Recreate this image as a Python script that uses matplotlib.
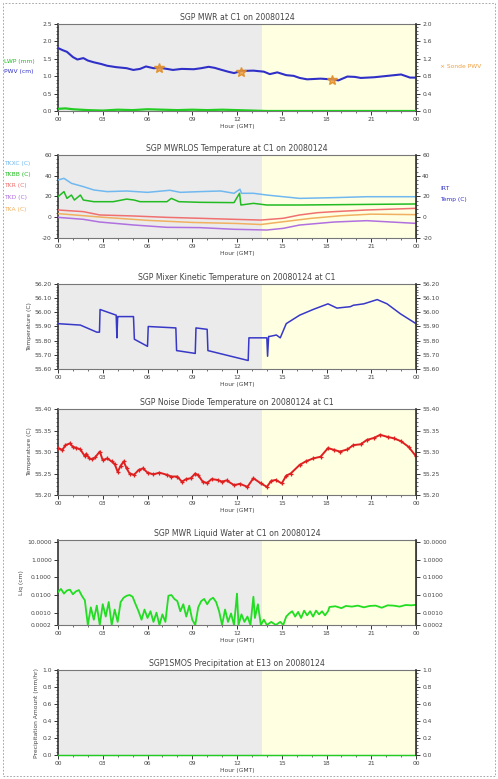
import matplotlib
matplotlib.use("Agg")
import matplotlib.pyplot as plt
from matplotlib.ticker import MultipleLocator, AutoMinorLocator, NullLocator
from matplotlib.patches import Rectangle

# ---------------- data ----------------
hour_ticks = [0, 3, 6, 9, 12, 15, 18, 21, 24]
hour_labels = ["00", "03", "06", "09", "12", "15", "18", "21", "00"]
dawn_hour = 13.65

# Panel 1: MWR PWV / LWP
pwv_hours = [0.0, 0.3, 0.6, 1.0, 1.3, 1.7, 2.0, 2.4, 2.9, 3.3, 3.9, 4.6, 5.05, 5.5, 5.9, 6.4, 6.85,
             7.3, 7.7, 8.3, 9.1, 9.6, 10.1, 10.5, 10.9, 11.4, 11.8, 12.3, 13.1, 13.8, 14.2, 14.7,
             15.3, 15.8, 16.2, 16.7, 17.6, 18.3, 18.8, 19.4, 19.9, 20.3, 21.2, 22.1, 23.0, 23.6, 24.0]
pwv_cm = [1.81, 1.75, 1.70, 1.55, 1.48, 1.52, 1.45, 1.40, 1.35, 1.30, 1.26, 1.23, 1.18, 1.21, 1.28,
          1.23, 1.24, 1.21, 1.18, 1.21, 1.20, 1.23, 1.27, 1.24, 1.19, 1.13, 1.09, 1.15, 1.16, 1.13,
          1.06, 1.11, 1.03, 1.01, 0.95, 0.91, 0.93, 0.91, 0.88, 0.99, 0.98, 0.95, 0.97, 1.01, 1.05,
          0.96, 0.96]
sonde_hours = [6.8, 12.3, 18.4]
sonde_pwv = [1.24, 1.11, 0.88]
lwp_hours = [0.0, 0.5, 1.0, 1.5, 2.0, 3.0, 4.0, 5.0, 6.0, 7.0, 8.0, 9.0, 10.0, 11.0, 12.0, 13.0,
             14.0, 16.0, 18.0, 20.0, 22.0, 24.0]
lwp_mm = [0.05, 0.06, 0.04, 0.03, 0.02, 0.01, 0.03, 0.02, 0.04, 0.03, 0.02, 0.03, 0.02, 0.03, 0.02,
          0.01, 0.0, 0.0, 0.0, 0.0, 0.0, 0.0]

# Panel 2: MWRLOS temperatures
tkxc_hours = [0.0, 0.4, 0.9, 1.7, 2.4, 3.3, 4.6, 6.0, 7.5, 8.2, 9.5, 10.9, 11.8, 12.2, 12.3, 13.1,
              14.0, 15.1, 16.2, 18.5, 20.7, 24.0]
tkxc = [35.9, 37.5, 32.7, 29.5, 26.3, 24.7, 25.3, 24.0, 26.0, 24.0, 24.7, 25.3, 23.1, 27.0, 23.1,
        23.1, 21.4, 19.8, 18.2, 18.9, 19.8, 19.8]
tkbb_hours = [0.0, 0.4, 0.6, 0.9, 1.1, 1.5, 1.7, 2.4, 3.7, 4.6, 5.1, 5.5, 7.3, 7.6, 8.1, 9.5, 11.8,
              12.17, 12.26, 13.1, 14.0, 16.2, 24.0]
tkbb = [19.8, 24.7, 18.2, 21.4, 16.6, 21.4, 16.6, 15.0, 15.0, 17.5, 16.6, 15.0, 15.0, 18.2, 15.0,
        14.4, 14.1, 23.1, 11.8, 13.4, 11.8, 11.8, 12.8]
tkr_hours = [0.0, 1.7, 2.8, 5.1, 7.3, 9.5, 11.8, 13.6, 15.1, 16.2, 17.4, 18.5, 20.7, 24.0]
tkr = [7.0, 5.4, 2.2, 1.2, -0.1, -1.0, -2.0, -2.7, -1.0, 2.2, 4.4, 5.4, 7.0, 8.6]
tkd_hours = [0.0, 1.7, 2.8, 5.1, 7.3, 9.5, 11.8, 14.0, 15.1, 16.2, 18.5, 20.7, 24.0]
tkd = [-0.1, -2.0, -4.6, -7.5, -9.7, -10.0, -11.6, -12.3, -10.7, -7.5, -4.6, -3.3, -5.9]
tka_hours = [0.0, 3.0, 6.0, 9.0, 12.0, 13.6, 15.0, 17.0, 19.0, 21.0, 24.0]
tka = [3.5, 0.0, -3.0, -5.0, -6.0, -7.0, -4.5, -1.0, 1.5, 3.0, 2.5]
los_labels = ["TKXC (C)", "TKBB (C)", "TKR (C)", "TKD (C)", "TKA (C)"]

# Panel 3: mixer kinetic temperature
mk_hours = [0.0, 1.5, 2.6, 2.78, 2.82, 3.9, 3.95, 4.0, 4.05, 5.06, 5.12, 6.0, 6.05, 7.9, 7.95, 9.2,
            9.25, 10.0, 10.05, 12.75, 12.8, 14.0, 14.05, 14.12, 14.2, 14.64, 14.9, 15.3, 16.2, 17.1,
            18.1, 18.7, 19.6, 19.8, 20.5, 21.4, 22.06, 22.95, 24.0]
mk_temp = [55.92, 55.91, 55.86, 55.86, 56.02, 55.98, 55.82, 55.97, 55.97, 55.97, 55.81, 55.76,
           55.90, 55.89, 55.73, 55.71, 55.89, 55.88, 55.73, 55.66, 55.82, 55.82, 55.69, 55.83,
           55.83, 55.84, 55.82, 55.92, 55.98, 56.02, 56.06, 56.03, 56.04, 56.05, 56.06, 56.09,
           56.06, 55.99, 55.92]
mk_ticks = [55.6, 55.7, 55.8, 55.9, 56.0, 56.1, 56.2]

# Panel 4: noise diode temperature
nd_hours = [0.0, 0.3, 0.5, 0.8, 1.0, 1.2, 1.5, 1.8, 1.9, 2.1, 2.3, 2.5, 2.8, 3.0, 3.3, 3.6, 3.8, 4.0,
            4.2, 4.4, 4.6, 4.8, 5.1, 5.4, 5.7, 6.0, 6.4, 6.8, 7.3, 7.6, 8.0, 8.3, 8.6, 8.9, 9.2, 9.4,
            9.7, 10.0, 10.3, 10.7, 11.0, 11.3, 11.8, 12.2, 12.7, 13.1, 13.6, 14.0, 14.3, 14.6, 15.0,
            15.3, 15.6, 16.2, 16.6, 17.1, 17.6, 18.1, 18.5, 18.9, 19.4, 19.8, 20.3, 20.7, 21.2, 21.6,
            22.1, 22.5, 23.0, 23.5, 24.0]
nd_temp = [55.309, 55.305, 55.316, 55.320, 55.312, 55.310, 55.306, 55.290, 55.296, 55.285, 55.283,
           55.288, 55.301, 55.281, 55.285, 55.278, 55.272, 55.254, 55.268, 55.278, 55.262, 55.250,
           55.247, 55.258, 55.262, 55.252, 55.248, 55.252, 55.247, 55.243, 55.243, 55.231, 55.237,
           55.239, 55.250, 55.246, 55.231, 55.228, 55.237, 55.235, 55.231, 55.234, 55.223, 55.226,
           55.219, 55.239, 55.227, 55.219, 55.233, 55.235, 55.227, 55.245, 55.250, 55.270, 55.278,
           55.285, 55.289, 55.309, 55.305, 55.301, 55.306, 55.316, 55.318, 55.328, 55.333, 55.340,
           55.335, 55.332, 55.325, 55.312, 55.290]
nd_ticks = [55.20, 55.25, 55.30, 55.35, 55.40]

# Panel 5: liquid water
lw_hours = [0.0, 0.2, 0.4, 0.6, 0.8, 1.0, 1.2, 1.4, 1.6, 1.8, 2.0, 2.2, 2.4, 2.6, 2.8, 3.0, 3.2, 3.4,
            3.6, 3.8, 4.0, 4.2, 4.4, 4.6, 4.8, 5.0, 5.2, 5.4, 5.6, 5.8, 6.0, 6.2, 6.4, 6.6, 6.8, 7.0,
            7.2, 7.4, 7.6, 7.8, 8.0, 8.2, 8.4, 8.6, 8.8, 9.0, 9.2, 9.4, 9.6, 9.8, 10.0, 10.2, 10.4,
            10.6, 10.8, 11.0, 11.2, 11.4, 11.6, 11.8, 12.0, 12.1, 12.3, 12.5, 12.7, 12.9, 13.1, 13.2,
            13.4, 13.6, 13.8, 14.0, 14.3, 14.6, 14.9, 15.1, 15.3, 15.5, 15.7, 15.9, 16.1, 16.3, 16.5,
            16.7, 16.9, 17.1, 17.3, 17.5, 17.7, 17.9, 18.1, 18.2, 18.6, 19.0, 19.3, 19.7, 20.1, 20.5,
            20.9, 21.3, 21.7, 22.1, 22.5, 22.9, 23.3, 23.7, 24.0]
lw_cm = [0.015, 0.022, 0.012, 0.018, 0.020, 0.011, 0.016, 0.019, 0.009, 0.005, 0.0002, 0.002,
         0.0004, 0.0025, 0.0002, 0.003, 0.0006, 0.004, 0.0002, 0.0015, 0.0003, 0.004, 0.007, 0.009,
         0.010, 0.008, 0.003, 0.0012, 0.0004, 0.0015, 0.0005, 0.0012, 0.0003, 0.001, 0.0002, 0.0008,
         0.0003, 0.009, 0.010, 0.006, 0.0045, 0.0012, 0.003, 0.0006, 0.0025, 0.0004, 0.0002, 0.002,
         0.0045, 0.006, 0.003, 0.0055, 0.007, 0.004, 0.0012, 0.0002, 0.0015, 0.0003, 0.0009, 0.0002,
         0.012, 0.0002, 0.0008, 0.0003, 0.0006, 0.0002, 0.008, 0.0005, 0.003, 0.0002, 0.0004,
         0.0002, 0.0003, 0.0002, 0.0003, 0.0002, 0.0006, 0.0009, 0.0012, 0.0006, 0.0011, 0.0005,
         0.0013, 0.0007, 0.0012, 0.0006, 0.0013, 0.0008, 0.0012, 0.0007, 0.0012, 0.0021, 0.0023,
         0.0018, 0.0024, 0.0022, 0.0025, 0.0020, 0.0024, 0.0025, 0.0019, 0.0026, 0.0025, 0.0022,
         0.0027, 0.0026, 0.0028]
lw_ticks = [0.0002, 0.001, 0.01, 0.1, 1.0, 10.0]
lw_tick_labels = ["0.0002", "0.0010", "0.0100", "0.1000", "1.0000", "10.0000"]

# Panel 6: precipitation
pr_hours = [0.0, 24.0]
pr_rate = [0.0, 0.0]
pr_ticks = [0.0, 0.2, 0.4, 0.6, 0.8, 1.0]

# ---------------- figure ----------------
W, H = 498, 779
fig = plt.figure(figsize=(W / 100, H / 100), dpi=100)
fig.patch.set_facecolor("white")

GRAY_BG = "#EBEBEB"
YEL_BG = "#FFFFE2"
TXT = "#444444"
TS = 4.3


def make_axes(top, bottom, left=58, right=416):
    return fig.add_axes([left / W, 1 - bottom / H, (right - left) / W, (bottom - top) / H])


def style(ax, title, ymin, ymax, yticks, ytlabels, log=False):
    ax.axvspan(0, dawn_hour, color=GRAY_BG, zorder=0, lw=0)
    ax.axvspan(dawn_hour, 24, color=YEL_BG, zorder=0, lw=0)
    ax.set_xlim(0, 24)
    if log:
        ax.set_yscale("log")
    ax.set_ylim(ymin, ymax)
    ax.set_xticks(hour_ticks)
    ax.set_xticklabels(hour_labels)
    ax.xaxis.set_minor_locator(MultipleLocator(1))
    ax.set_yticks(yticks)
    ax.set_yticklabels(ytlabels)
    ax.yaxis.set_minor_locator(NullLocator() if log else AutoMinorLocator(5))
    ax.tick_params(which="major", direction="out", length=3, width=0.7, labelsize=TS,
                   colors="#333333", labelcolor=TXT, pad=1.5)
    ax.tick_params(which="minor", direction="out", length=1.6, width=0.5, colors="#333333")
    for s in ax.spines.values():
        s.set_color("#777777")
        s.set_linewidth(0.8)
    ax.spines["left"].set_color("#333333")
    ax.spines["left"].set_linewidth(1.2)
    ax.set_title(title, fontsize=5.6, color=TXT, pad=3)
    ax.set_xlabel("Hour (GMT)", fontsize=TS, color=TXT, labelpad=1)

    tw = ax.twinx()
    if log:
        tw.set_yscale("log")
    tw.set_ylim(ymin, ymax)
    tw.set_yticks(yticks)
    tw.set_yticklabels(ytlabels)
    tw.yaxis.set_minor_locator(NullLocator() if log else AutoMinorLocator(5))
    tw.tick_params(which="major", direction="out", length=3, width=0.7, labelsize=TS,
                   colors="#333333", labelcolor=TXT, pad=1.5)
    tw.tick_params(which="minor", direction="out", length=1.6, width=0.5, colors="#333333")
    for s in tw.spines.values():
        s.set_visible(False)
    tw.spines["right"].set_visible(True)
    tw.spines["right"].set_color("#333333")
    tw.spines["right"].set_linewidth(1.2)
    return tw


# Panel 1
ax1 = make_axes(24, 111)
tw1 = style(ax1, "SGP MWR at C1 on 20080124", 0.0, 2.5, [0.0, 0.5, 1.0, 1.5, 2.0, 2.5],
            ["0.0", "0.5", "1.0", "1.5", "2.0", "2.5"])
tw1.set_ylim(0.0, 2.0)
tw1.set_yticks([0.0, 0.4, 0.8, 1.2, 1.6, 2.0])
tw1.set_yticklabels(["0.0", "0.4", "0.8", "1.2", "1.6", "2.0"])
ax1.plot(pwv_hours, pwv_cm, color="#3030C8", lw=1.5, zorder=3)
ax1.plot(sonde_hours, sonde_pwv, ls="none", marker="*", ms=7.5, color="#F0A040",
         markeredgecolor="#E08A20", alpha=0.85, zorder=4)
tw1.plot(lwp_hours, lwp_mm, color="#22CC22", lw=1.6, zorder=3)
fig.text(4 / W, 1 - 61 / H, "LWP (mm)", color="#22BB22", fontsize=TS, va="center")
fig.text(4 / W, 1 - 71 / H, "PWV (cm)", color="#3030C8", fontsize=TS, va="center")
fig.text(440 / W, 1 - 67 / H, "× Sonde PWV", color="#F0A040", fontsize=TS, va="center")

# Panel 2
ax2 = make_axes(155, 238)
style(ax2, "SGP MWRLOS Temperature at C1 on 20080124", -20, 60, [-20, 0, 20, 40, 60],
      ["-20", "0", "20", "40", "60"])
los_colors = ["#70B8F0", "#22BB22", "#F07070", "#B070E0", "#F0B060"]
for hrs, vals, c in zip([tkxc_hours, tkbb_hours, tkr_hours, tkd_hours, tka_hours],
                        [tkxc, tkbb, tkr, tkd, tka], los_colors):
    ax2.plot(hrs, vals, color=c, lw=1.1, zorder=3)
for i, (lab, c) in enumerate(zip(los_labels, los_colors)):
    fig.text(4 / W, 1 - (163 + 11.5 * i) / H, lab, color=c, fontsize=TS, va="center")
fig.text(440 / W, 1 - 188 / H, "IRT", color="#3030C8", fontsize=TS, va="center")
fig.text(440 / W, 1 - 199 / H, "Temp (C)", color="#3030C8", fontsize=TS, va="center")

# Panel 3
ax3 = make_axes(284, 369)
style(ax3, "SGP Mixer Kinetic Temperature on 20080124 at C1", 55.6, 56.2, mk_ticks,
      ["%.2f" % t for t in mk_ticks])
ax3.plot(mk_hours, mk_temp, color="#3838C8", lw=1.1, zorder=3)
ax3.set_ylabel("Temperature (C)", fontsize=TS, color=TXT, labelpad=2)

# Panel 4
ax4 = make_axes(409, 495)
style(ax4, "SGP Noise Diode Temperature on 20080124 at C1", 55.20, 55.40, nd_ticks,
      ["%.2f" % t for t in nd_ticks])
ax4.plot(nd_hours, nd_temp, color="#E02020", lw=1.4, marker="+", ms=3.5, mew=0.9, zorder=3)
ax4.set_ylabel("Temperature (C)", fontsize=TS, color=TXT, labelpad=2)

# Panel 5
ax5 = make_axes(540, 625)
style(ax5, "SGP MWR Liquid Water at C1 on 20080124", 0.0002, 13.0, lw_ticks, lw_tick_labels,
      log=True)
ax5.plot(lw_hours, lw_cm, color="#22DD22", lw=1.3, zorder=3)
ax5.set_ylabel("Liq (cm)", fontsize=TS, color=TXT, labelpad=2)

# Panel 6
ax6 = make_axes(670, 755)
style(ax6, "SGP1SMOS Precipitation at E13 on 20080124", 0.0, 1.0, pr_ticks,
      ["%.1f" % t for t in pr_ticks])
ax6.plot(pr_hours, pr_rate, color="#22CC22", lw=1.0, zorder=3, clip_on=False)
ax6.set_ylabel("Precipitation Amount (mm/hr)", fontsize=TS, color=TXT, labelpad=2)

# dashed frame around the figure
fig.patches.append(Rectangle((3 / W, 3 / H), 492 / W, 773 / H, transform=fig.transFigure,
                             fill=False, ls=(0, (2, 2)), ec="#999999", lw=0.6))

fig.savefig("out.png", dpi=100)
